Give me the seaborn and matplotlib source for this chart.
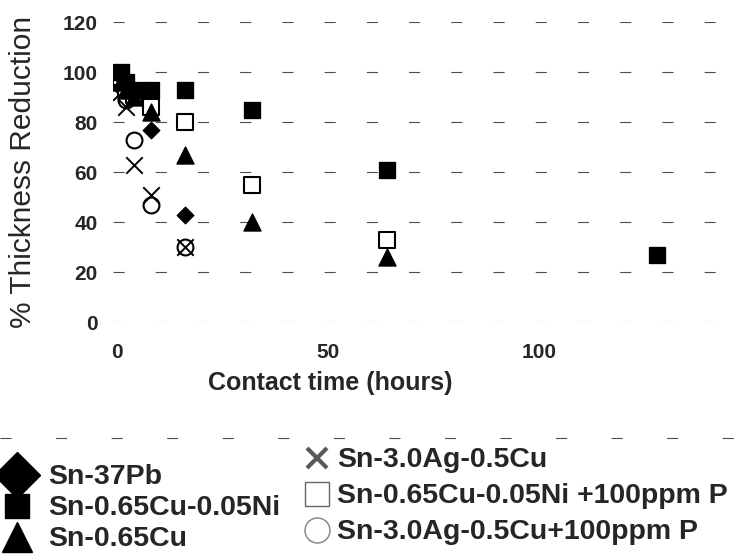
import matplotlib
matplotlib.use('Agg')
import numpy as np
import pandas as pd
import matplotlib.pyplot as plt
from matplotlib.lines import Line2D
import seaborn as sns

# Tempos de contato (horas) e reducao de espessura (%)
t_sn37pb = [1, 2, 4, 8, 16]
y_sn37pb = [98, 95, 92, 77, 43]

t_sncuni = [1, 2, 4, 8, 16, 32, 64, 128]
y_sncuni = [100, 96, 93, 93, 93, 85, 61, 27]

t_sncu = [1, 2, 4, 8, 16, 32, 64]
y_sncu = [96, 93, 90, 84, 67, 40, 26]

t_snagcu = [1, 2, 4, 8, 16]
y_snagcu = [92, 86, 63, 51, 30]

t_sncuni_p = [1, 2, 4, 8, 16, 32, 64]
y_sncuni_p = [98, 94, 91, 86, 80, 55, 33]

t_snagcu_p = [1, 2, 4, 8, 16]
y_snagcu_p = [95, 89, 73, 47, 30]

labels = ['Sn-37Pb', 'Sn-0.65Cu-0.05Ni', 'Sn-0.65Cu',
          'Sn-3.0Ag-0.5Cu', 'Sn-0.65Cu-0.05Ni +100ppm P', 'Sn-3.0Ag-0.5Cu+100ppm P']
y_ticks = [0, 20, 40, 60, 80, 100, 120]
x_ticks = [0, 50, 100]

series = [
    (labels[0], t_sn37pb, y_sn37pb),
    (labels[1], t_sncuni, y_sncuni),
    (labels[2], t_sncu, y_sncu),
    (labels[3], t_snagcu, y_snagcu),
    (labels[4], t_sncuni_p, y_sncuni_p),
    (labels[5], t_snagcu_p, y_snagcu_p),
]
df = pd.concat([pd.DataFrame({'liga': n, 'tempo': t, 'reducao': v}) for n, t, v in series],
               ignore_index=True)

# estilo de cada serie: marcador, preenchimento, tamanho
estilos = {
    labels[0]: dict(marker='D', color='black', edgecolor='black', s=75),
    labels[1]: dict(marker='s', color='black', edgecolor='black', s=140),
    labels[2]: dict(marker='^', color='black', edgecolor='black', s=150),
    labels[3]: dict(marker='x', color='black', s=140, linewidth=1.4),
    labels[4]: dict(marker='s', color='white', edgecolor='black', s=125, linewidth=1.5),
    labels[5]: dict(marker='o', color='white', edgecolor='black', s=130, linewidth=1.5),
}

sns.set_style('white')
plt.rcParams['font.family'] = ['Liberation Sans', 'DejaVu Sans']

fig = plt.figure(figsize=(7.46, 5.55), dpi=100)
ax = fig.add_axes([113 / 746, 1 - 322 / 555, 1 - 113 / 746, 300 / 555])

# ordem de desenho: abertos primeiro, depois cheios por cima
ordem = [labels[5], labels[3], labels[4], labels[0], labels[2], labels[1]]
for nome in ordem:
    sub = df[df['liga'] == nome]
    sns.scatterplot(data=sub, x='tempo', y='reducao', ax=ax, legend=False, **estilos[nome])

ax.set_xlim(-1, 149)
ax.set_ylim(0, 120)
ax.set_xticks(x_ticks)
ax.set_yticks(y_ticks)
ax.tick_params(axis='both', length=0, labelsize=15)
ax.tick_params(axis='y', pad=11)
ax.tick_params(axis='x', pad=15)
for lbl in ax.get_xticklabels() + ax.get_yticklabels():
    lbl.set_fontweight('bold')
ax.set_xlabel('')
ax.set_ylabel('')
for sp in ax.spines.values():
    sp.set_visible(False)
# linhas de grade tracejadas (aspecto de digitalizacao)
ax.yaxis.grid(True, color='0.3', linewidth=0.8, linestyle=(0, (10, 28)))
ax.set_axisbelow(True)

# titulos dos eixos
fig.text(330 / 746, 1 - 383 / 555, 'Contact time (hours)', ha='center', va='center',
         fontsize=18, fontweight='bold')
fig.text(23 / 746, 1 - 172 / 555, '% Thickness Reduction', ha='center', va='center',
         rotation=90, fontsize=21.5)

# linha tracejada acima da legenda
fig.add_artist(Line2D([0, 1], [1 - 438 / 555, 1 - 438 / 555], transform=fig.transFigure,
                      color='0.3', linewidth=0.8, linestyle=(0, (10, 40))))

# legendas em duas colunas
h_esq = [
    Line2D([], [], marker='D', linestyle='', color='black', markersize=23),
    Line2D([], [], marker='s', linestyle='', color='black', markersize=17),
    Line2D([], [], marker='^', linestyle='', color='black', markersize=21),
]
h_dir = [
    Line2D([], [], marker='x', linestyle='', color='0.35', markersize=14, markeredgewidth=3),
    Line2D([], [], marker='s', linestyle='', markerfacecolor='white', markeredgecolor='0.4',
           markersize=17, markeredgewidth=1),
    Line2D([], [], marker='o', linestyle='', markerfacecolor='white', markeredgecolor='0.5',
           markersize=18, markeredgewidth=1),
]
leg_kw = dict(frameon=False, borderpad=0, borderaxespad=0, handleheight=0.5,
              prop={'weight': 'bold', 'size': 20.5})
leg1 = fig.legend(h_esq, labels[:3], loc='upper left', bbox_to_anchor=(0.0, 1 - 464 / 555),
                  handlelength=1.2, handletextpad=0.5, labelspacing=0.18, **leg_kw)
leg2 = fig.legend(h_dir, labels[3:], loc='upper left', bbox_to_anchor=(306 / 746, 1 - 447 / 555),
                  handlelength=0.8, handletextpad=0.3, labelspacing=0.35, **leg_kw)

plt.savefig('out.png', dpi=100)
plt.clf()
